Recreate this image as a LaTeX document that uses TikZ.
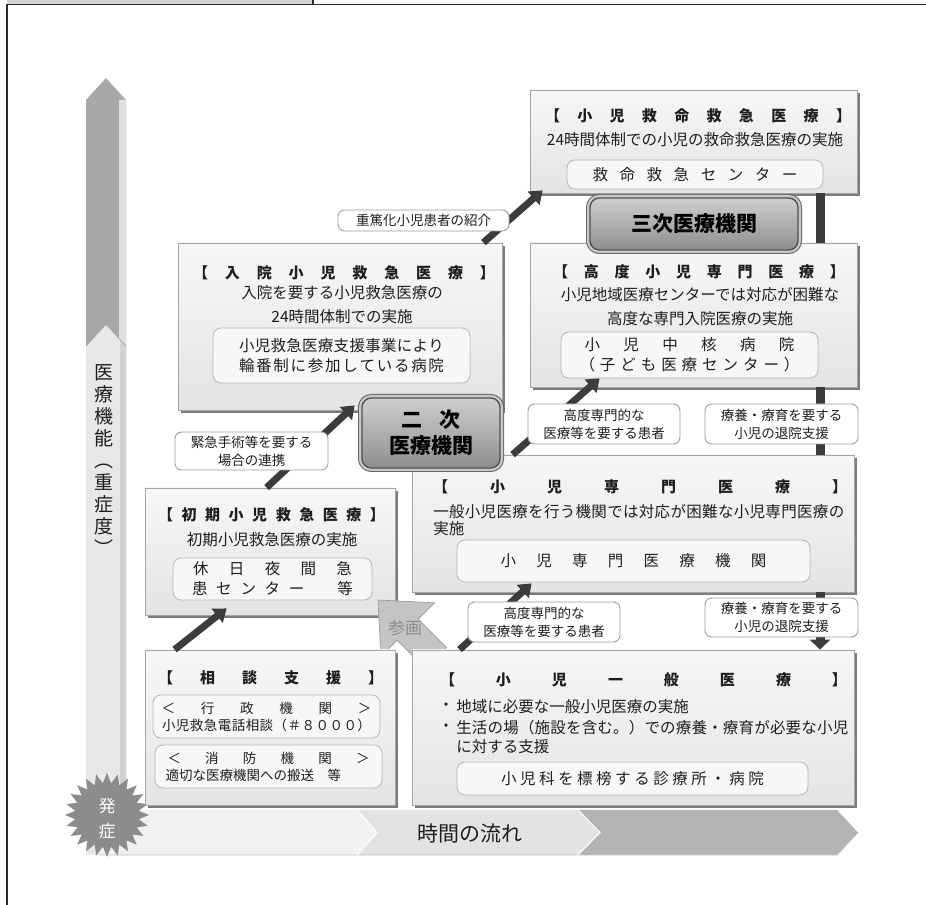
\documentclass[tikz,border=0pt]{standalone}
\usepackage{fontspec}
\setmainfont{Noto Sans CJK JP}
\newfontfamily\jpblack{Noto Sans CJK JP Black}
\usepackage{graphicx}
\usetikzlibrary{shadows,arrows.meta,calc}
\newlength\pxu
\setlength\pxu{0.75pt}
\newcommand\fsz[2]{\fontsize{#1\pxu}{#2\pxu}\selectfont}
\newcommand\spreadtxt[2]{\makebox[#1\pxu]{\spreadA#2\relax}}
\def\spreadA#1{\ifx#1\relax\else#1\expandafter\spreadB\fi}
\def\spreadB#1{\ifx#1\relax\else\hfill#1\expandafter\spreadB\fi}
\definecolor{framecol}{HTML}{2B2B2B}
\definecolor{tabfill}{HTML}{D2D2D2}
\definecolor{varrdark}{HTML}{A8A8A8}
\definecolor{varrlight}{HTML}{E8E8E8}
\definecolor{harrA}{HTML}{F1F1F1}
\definecolor{harrB}{HTML}{E3E3E3}
\definecolor{harrC}{HTML}{B3B3B3}
\definecolor{burst}{HTML}{8C8C8C}
\definecolor{boxtop}{HTML}{F7F7F7}
\definecolor{boxbot}{HTML}{E4E4E4}
\definecolor{boxline}{HTML}{A5A5A5}
\definecolor{bevsh}{HTML}{7B7B7B}
\definecolor{infill}{HTML}{F7F7F7}
\definecolor{inline}{HTML}{B6B6B6}
\definecolor{labline}{HTML}{9D9D9D}
\definecolor{conncol}{HTML}{3C3C3C}
\definecolor{badgetop}{HTML}{CFCFCF}
\definecolor{badgebot}{HTML}{8E8E8E}
\definecolor{badgeline}{HTML}{505050}
\definecolor{badgehalo}{HTML}{C8C8C8}
\definecolor{sankaku}{HTML}{C4C4C4}
\definecolor{txtcol}{HTML}{1E1E1E}
\newcommand\bevbox[5]{%
  \pgfmathsetmacro\bbw{(#4-#2-3)*0.75}%
  \pgfmathsetmacro\bbh{(#5-#3-3)*0.75}%
  \node[bev,minimum width=\bbw pt,minimum height=\bbh pt] (#1) at ({(#2+#4-3)/2},{(#3+#5-3)/2}) {};}
\newcommand\rbox[7][]{%
  \pgfmathsetmacro\bbw{(#5-#3)*0.75}%
  \pgfmathsetmacro\bbh{(#6-#4)*0.75}%
  \node[minimum width=\bbw pt,minimum height=\bbh pt,#1] (#2) at ({(#3+#5)/2},{(#4+#6)/2}) {#7};}
\tikzset{
  bev/.style={rectangle, draw=boxline, line width=0.6pt, top color=boxtop, bottom color=boxbot,
    drop shadow={shadow xshift=2.2pt, shadow yshift=-2.2pt, fill=bevsh, opacity=1}, inner sep=0pt},
  inbox/.style={draw=inline, fill=infill, rounded corners=6pt, line width=0.6pt, inner sep=0pt,
    align=center, text=txtcol, font=\fsz{15.5}{20}},
  lab/.style={draw=labline, fill=white, rounded corners=5pt, line width=0.7pt, inner sep=0pt,
    align=center, text=txtcol, font=\fsz{13.5}{18}},
  badge/.style={rounded corners=7pt, draw=badgeline, line width=1pt, top color=badgetop, bottom color=badgebot,
    preaction={draw=black!60, line width=6pt}, preaction={draw=badgehalo, line width=4.5pt},
    inner sep=0pt, align=center, text=black, font=\jpblack\fsz{21}{26}},
  conn/.style={line width=5.25pt, draw=conncol, -{Triangle[width=13pt,length=9pt]}},
  vbar/.style={line width=6.75pt, draw=conncol},
  vconn/.style={vbar, -{Triangle[width=15pt,length=7.5pt]}},
  tx/.style={inner sep=0pt, text=txtcol, font=\fsz{15.5}{19}},
  hd/.style={inner sep=0pt, text=txtcol, font=\jpblack\fsz{15}{18}}
}
\begin{document}
\begin{tikzpicture}[x=0.75pt,y=-0.75pt]
\useasboundingbox (0,0) rectangle (926,905);
% frame
\fill[tabfill] (7,0) rectangle (313,5);
\draw[framecol, line width=0.9pt] (313,0) -- (313,5);
\draw[framecol, line width=1.1pt] (7,905) -- (7,4.5) -- (926,4.5);
% vertical arrow
\fill[varrdark] (86,855) -- (86,100) -- (106,78) -- (126,100) -- (126,855) -- cycle;
\fill[black!12] (119,100) -- (126,100) -- (126,345) -- (119,338) -- cycle;
\fill[varrlight] (86,855) -- (86,347) -- (106,325) -- (126,347) -- (126,855) -- cycle;
\fill[black!18] (120,340) -- (126,347) -- (126,855) -- (120,855) -- cycle;
\node[inner sep=0pt, text=txtcol, align=center, font=\fsz{19}{22}] (iryo) at (104,460)
  {医\\療\\機\\能\\︵\\重\\症\\度\\︶};
% time arrow
\fill[harrA] (100,810) -- (357,810) -- (377,832.5) -- (357,855) -- (100,855) -- cycle;
\fill[harrB] (357,810) -- (578,810) -- (600,832.5) -- (578,855) -- (357,855) -- (377,832.5) -- cycle;
\fill[harrC] (578,810) -- (837,810) -- (858,832.5) -- (837,855) -- (578,855) -- (600,832.5) -- cycle;
\draw[black!25, line width=0.6pt] (100,855) -- (837,855) -- (858,832.5);
\draw[white, line width=0.8pt] (357,810) -- (377,832.5) -- (357,855);
\draw[white, line width=0.8pt] (578,810) -- (600,832.5) -- (578,855);
\node[inner sep=0pt, text=txtcol, font=\fsz{21}{24}] (jikan) at (470,834) {時間の流れ};
% onset burst
\fill[burst] plot[samples at={0,...,47}, variable=\i]
  ({107+ifthenelse(mod(\i,2)==0,42,32)*cos(\i*7.5)}, {815+ifthenelse(mod(\i,2)==0,42,32)*sin(\i*7.5)}) -- cycle;
\node[inner sep=0pt, text=white, align=center, font=\fsz{17}{25}] (hassho) at (107,819) {発\\症};
\coordinate (vx) at (820,0);
% boxes
\bevbox{kyumei}{530}{90}{860}{196}
\bevbox{kodo}{530}{243}{860}{390}
\bevbox{nyuin}{178}{243}{505}{413}
\bevbox{shoni}{412}{455}{857}{595}
\bevbox{shoki}{145}{488}{398}{618}
% participation arrow
\fill[sankaku, draw=black!40, line width=0.5pt] (378,600) -- (434.6,602.8) -- (418.3,619.1) -- (446.6,647.4)
  -- (425.4,668.6) -- (397.1,640.3) -- (380.8,656.6) -- cycle;
\node[inner sep=0pt, text=black!45, font=\fsz{17}{20}] (sankaku) at (405,628) {参画};
\bevbox{soudan}{145}{650}{398}{808}
\bevbox{ippan}{412}{650}{857}{808}
\draw[vbar] (kyumei.south -| vx) -- (kodo.north -| vx);
\draw[vbar] (kodo.south -| vx) -- (shoni.north -| vx);
\draw[vconn] (shoni.south -| vx) -- (ippan.north -| vx);
% texts in boxes
\node[hd] (kyh) at (698,116) {\spreadtxt{306}{【小児救命救急医療】}};
\node[tx] (kyt) at (695,140) {24時間体制での小児の救命救急医療の実施};
\rbox[inbox]{kyin}{567}{160}{823}{189}{\spreadtxt{205}{救命救急センター}}
\node[hd] (kdh) at (699,272) {\spreadtxt{292}{【高度小児専門医療】}};
\node[tx] (kdt1) at (700,295) {小児地域医療センターでは対応が困難な};
\node[tx] (kdt2) at (700,319) {高度な専門入院医療の実施};
\rbox[inbox]{kdin}{561}{332}{818}{378}{\spreadtxt{210}{小児中核病院}\\\spreadtxt{220}{（子ども医療センター）}}
\node[hd] (nyh) at (344,273) {\spreadtxt{302}{【入院小児救急医療】}};
\node[tx] (nyt1) at (342,293) {入院を要する小児救急医療の};
\node[tx] (nyt2) at (342,317) {24時間体制での実施};
\rbox[inbox]{nyin}{213}{328}{470}{383}{\spreadtxt{205}{小児救急医療支援事業により}\\\spreadtxt{205}{輪番制に参加している病院}}
\node[hd] (shh) at (640,487) {\spreadtxt{414}{【小児専門医療】}};
\node[tx,anchor=west] (sht1) at (433,512) {\spreadtxt{411}{一般小児医療を行う機関では対応が困難な小児専門医療の}};
\node[tx,anchor=west] (sht2) at (433,529) {実施};
\rbox[inbox]{shin}{457}{540}{810}{582}{\spreadtxt{266}{小児専門医療機関}}
\node[hd] (skh) at (271.5,515) {\spreadtxt{227}{【初期小児救急医療】}};
\node[tx] (skt) at (272,540) {初期小児救急医療の実施};
\rbox[inbox]{skin}{173}{558}{372}{600}{\spreadtxt{159}{休日夜間急}\\\spreadtxt{161}{患センター　等}}
\node[hd] (sdh) at (270.5,678) {\spreadtxt{225}{【相談支援】}};
\rbox[inbox,font=\fsz{13.5}{17}]{sdin1}{153}{695}{380}{738}{\spreadtxt{210}{＜行政機関＞}\\\spreadtxt{209}{小児救急電話相談（＃８０００）}}
\rbox[inbox,font=\fsz{13.5}{17}]{sdin2}{155}{745}{382}{788}{\spreadtxt{202}{＜消防機関＞}\\\makebox[206\pxu][l]{適切な医療機関への搬送　等}}
\node[hd] (iph) at (643.5,680) {\spreadtxt{407}{【小児一般医療】}};
\node[tx] (ipb1) at (446,707) {・};
\node[tx,anchor=west] (ipt1) at (456,707) {地域に必要な一般小児医療の実施};
\node[tx] (ipb2) at (446,728) {・};
\node[tx,anchor=west] (ipt2) at (456,728) {\spreadtxt{392}{生活の場（施設を含む。）での療養・療育が必要な小児}};
\node[tx,anchor=west] (ipt3) at (456,747) {に対する支援};
\rbox[inbox]{ipin}{457}{762}{808}{795}{\spreadtxt{263}{小児科を標榜する診療所・病院}}
% diagonal arrows
\draw[conn] ($(soudan.north west)+(30,0)$) -- ($(shoki.south west)+(82,-7)$);
\draw[conn] ($(shoki.north west)+(122,0)$) -- ($(nyuin.south west)+(177,-5)$);
\draw[conn] ($(nyuin.north east)+(-19,0)$) -- ($(kyumei.south west)+(13,-3)$);
\draw[conn] ($(shoni.north west)+(101,0)$) -- ($(kodo.south west)+(70,-9)$);
\draw[conn] ($(ippan.north west)+(48,0)$) -- ($(shoni.south west)+(120,-9)$);
% labels
\rbox[lab]{lj}{338}{210}{509}{231}{重篤化小児患者の紹介}
\rbox[lab]{lk}{175}{432}{328}{470}{緊急手術等を要する\\場合の連携}
\rbox[lab]{lkd1}{528}{404}{680}{444}{高度専門的な\\医療等を要する患者}
\rbox[lab]{lr1}{705}{404}{858}{444}{療養・療育を要する\\小児の退院支援}
\rbox[lab]{lkd2}{468}{602}{620}{642}{高度専門的な\\医療等を要する患者}
\rbox[lab]{lr2}{705}{598}{858}{637}{療養・療育を要する\\小児の退院支援}
% badges
\rbox[badge]{sanji}{590}{198}{798}{250}{三次医療機関}
\rbox[badge]{niji}{362}{398}{500}{468}{二\hspace{0.8em}次\\医療機関}
\end{tikzpicture}
\end{document}
